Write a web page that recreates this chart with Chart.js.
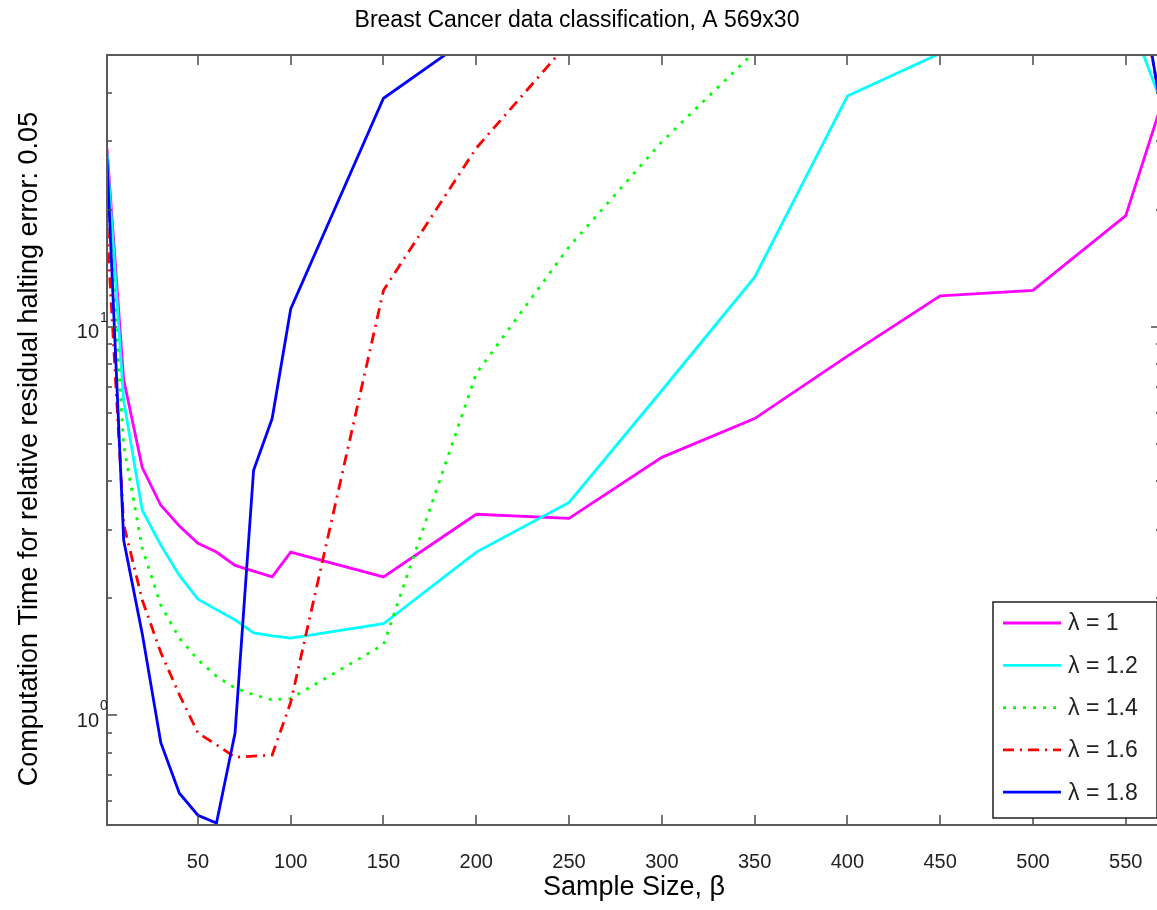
<!DOCTYPE html>
<html>
<head>
<meta charset="utf-8">
<title>Breast Cancer data classification</title>
<script src="https://cdn.jsdelivr.net/npm/chart.js@4.4.0/dist/chart.umd.min.js"></script>
<style>
  html, body { margin: 0; padding: 0; background: #fff; overflow: hidden; }
  #wrap { width: 1165px; height: 910px; }
</style>
</head>
<body>
<div id="wrap"><canvas id="chart" width="1165" height="910"></canvas></div>
<script>
// sample sizes (beta) and computation times, one list per lambda
const sampleSizes = [1, 10, 20, 30, 40, 50, 60, 70, 80, 90, 100, 150, 200, 250, 300, 350, 400, 450, 500, 550, 569];
const timeLambda10 = [28.7, 7.3, 4.34, 3.47, 3.07, 2.77, 2.63, 2.43, 2.35, 2.27, 2.63, 2.27, 3.29, 3.21, 4.61, 5.8, 8.4, 12.0, 12.4, 19.3, 37];
const timeLambda12 = [28, 6.45, 3.37, 2.74, 2.29, 1.99, 1.87, 1.76, 1.63, 1.6, 1.58, 1.72, 2.63, 3.53, 6.85, 13.4, 39.2, 50.5, 80, 66, 38];
const timeLambda14 = [24, 4.95, 2.69, 1.92, 1.58, 1.39, 1.26, 1.175, 1.13, 1.095, 1.105, 1.52, 7.57, 16.05, 29.9, 51, 90, 130, 160, 110, 37.5];
const timeLambda16 = [18, 3.1, 1.98, 1.45, 1.13, 0.9, 0.84, 0.78, 0.785, 0.79, 1.08, 12.4, 28.8, 54, 100, 140, 180, 200, 210, 115, 37];
const timeLambda18 = [27, 2.82, 1.62, 0.85, 0.63, 0.553, 0.528, 0.9, 4.27, 5.8, 11.1, 38.7, 57, 110, 160, 200, 240, 250, 260, 125, 36.5];

const seriesLabels = ['\u03bb = 1', '\u03bb = 1.2', '\u03bb = 1.4', '\u03bb = 1.6', '\u03bb = 1.8'];
const xTicks = [50, 100, 150, 200, 250, 300, 350, 400, 450, 500, 550];
const yMajorTicks = [1, 10];
const yMinorTicks = [0.6, 0.7, 0.8, 0.9, 2, 3, 4, 5, 6, 7, 8, 9, 20, 30, 40];

const FONT = '"Liberation Sans", Arial, Helvetica, sans-serif';

function toPoints(values) {
  return sampleSizes.map((s, i) => ({ x: s, y: values[i] }));
}

// box, inward ticks, tick labels, titles and the legend, matlab style
const matlabAxes = {
  id: 'matlabAxes',
  afterDatasetsDraw(chart) {
    const ctx = chart.ctx;
    const a = chart.chartArea;
    const x = chart.scales.x;
    const y = chart.scales.y;
    ctx.save();

    // ticks
    ctx.strokeStyle = '#4a4a4a';
    ctx.lineWidth = 1.5;
    ctx.beginPath();
    xTicks.forEach(v => {
      const px = Math.round(x.getPixelForValue(v));
      ctx.moveTo(px, a.bottom); ctx.lineTo(px, a.bottom - 10);
      ctx.moveTo(px, a.top); ctx.lineTo(px, a.top + 10);
    });
    yMajorTicks.forEach(v => {
      const py = Math.round(y.getPixelForValue(v));
      ctx.moveTo(a.left, py); ctx.lineTo(a.left + 10, py);
      ctx.moveTo(a.right, py); ctx.lineTo(a.right - 10, py);
    });
    yMinorTicks.forEach(v => {
      const py = Math.round(y.getPixelForValue(v));
      ctx.moveTo(a.left, py); ctx.lineTo(a.left + 5, py);
      ctx.moveTo(a.right, py); ctx.lineTo(a.right - 5, py);
    });
    ctx.stroke();

    // box
    ctx.lineWidth = 2;
    ctx.strokeStyle = '#5a5a5a';
    ctx.strokeRect(a.left, a.top, a.right - a.left, a.bottom - a.top);

    // x tick labels
    ctx.fillStyle = '#222';
    ctx.font = '20px ' + FONT;
    ctx.textAlign = 'center';
    ctx.textBaseline = 'middle';
    xTicks.forEach(v => ctx.fillText(String(v), x.getPixelForValue(v), a.bottom + 37));

    // y tick labels 10^k
    yMajorTicks.forEach(v => {
      const py = y.getPixelForValue(v);
      ctx.font = '20px ' + FONT;
      ctx.textAlign = 'right';
      ctx.fillText('10', a.left - 8, py + 6);
      ctx.font = '14px ' + FONT;
      ctx.textAlign = 'left';
      ctx.fillText(String(Math.round(Math.log10(v))), a.left - 7, py - 9);
    });

    // title and axis titles
    ctx.fillStyle = '#000';
    ctx.textAlign = 'center';
    ctx.font = '23px ' + FONT;
    ctx.fillText('Breast Cancer data classification, A 569x30', 577, 21);
    ctx.font = '27px ' + FONT;
    ctx.fillText('Sample Size, \u03b2', (a.left + a.right) / 2, 888);
    ctx.save();
    ctx.translate(30, 449);
    ctx.rotate(-Math.PI / 2);
    ctx.fillText('Computation Time for relative residual halting error: 0.05', 0, 0);
    ctx.restore();

    // legend box
    const lx = 993, ly = 602, lw = 164, lh = 216;
    ctx.fillStyle = '#fff';
    ctx.fillRect(lx, ly, lw, lh);
    ctx.strokeStyle = '#222';
    ctx.lineWidth = 1.5;
    ctx.strokeRect(lx, ly, lw, lh);
    ctx.font = '23px ' + FONT;
    ctx.textAlign = 'left';
    chart.data.datasets.forEach((ds, i) => {
      const rowY = 623 + i * 42.3;
      ctx.strokeStyle = ds.borderColor;
      ctx.lineWidth = ds.borderWidth;
      ctx.setLineDash(ds.borderDash || []);
      ctx.beginPath();
      ctx.moveTo(1003, rowY);
      ctx.lineTo(1061, rowY);
      ctx.stroke();
      ctx.setLineDash([]);
      ctx.fillStyle = '#222';
      ctx.fillText(ds.label, 1068, rowY + 1);
    });

    ctx.restore();
  }
};

const ctx = document.getElementById('chart').getContext('2d');
const chart = new Chart(ctx, {
  type: 'line',
  data: {
    datasets: [
      { label: seriesLabels[0], data: toPoints(timeLambda10), borderColor: '#ff00ff', borderWidth: 2.8, order: 4 },
      { label: seriesLabels[1], data: toPoints(timeLambda12), borderColor: '#00ffff', borderWidth: 2.8, order: 3 },
      { label: seriesLabels[2], data: toPoints(timeLambda14), borderColor: '#00ff00', borderWidth: 2.8, borderDash: [3, 7], order: 2 },
      { label: seriesLabels[3], data: toPoints(timeLambda16), borderColor: '#ff0000', borderWidth: 2.8, borderDash: [11, 6, 2, 6], order: 1 },
      { label: seriesLabels[4], data: toPoints(timeLambda18), borderColor: '#0000ff', borderWidth: 2.8, order: 0 }
    ]
  },
  options: {
    responsive: false,
    animation: false,
    layout: { padding: { left: 107, top: 55, right: 4, bottom: 85 } },
    elements: {
      point: { radius: 0 },
      line: { tension: 0, fill: false }
    },
    datasets: { line: { clip: 0 } },
    scales: {
      x: { type: 'linear', min: 1, max: 569, display: false },
      y: { type: 'logarithmic', min: 0.522, max: 50, display: false }
    },
    plugins: {
      legend: { display: false },
      tooltip: { enabled: false },
      title: { display: false }
    }
  },
  plugins: [matlabAxes]
});
</script>
</body>
</html>
